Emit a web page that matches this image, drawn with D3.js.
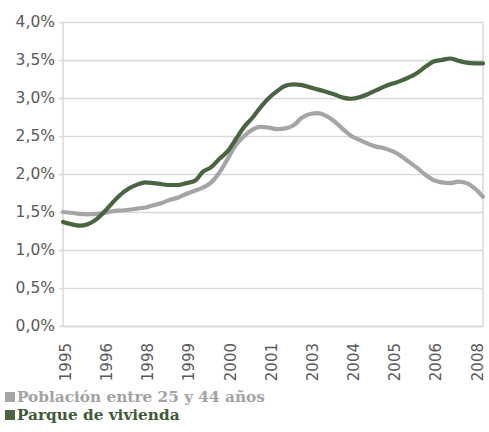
<!DOCTYPE html>
<html>
<head>
<meta charset="utf-8">
<script src="https://cdn.jsdelivr.net/npm/d3@7"></script>
<style>
  html, body { margin: 0; padding: 0; background: #ffffff; }
  svg { display: block; }
</style>
</head>
<body>
<svg id="chart" width="489" height="432"></svg>
<script>
// Quarterly data, 1995 Q3 – 2008 Q2 (52 points), annual growth (%)
const quarters = d3.range(52);
const tickLabels = ["1995", "1996", "1998", "1999", "2000", "2001", "2003", "2004", "2005", "2006", "2008"];
const tickIndexes = [0, 5, 10, 15, 20, 25, 30, 35, 40, 45, 50];
const yTicks = [0, 0.5, 1.0, 1.5, 2.0, 2.5, 3.0, 3.5, 4.0];
const seriesNames = ["Población entre 25 y 44 años", "Parque de vivienda"];

const poblacion = [
  1.50, 1.49, 1.475, 1.47, 1.475, 1.49, 1.51, 1.52, 1.53, 1.545,
  1.56, 1.59, 1.62, 1.66, 1.69, 1.74, 1.78, 1.82, 1.89, 2.02,
  2.20, 2.38, 2.50, 2.585, 2.62, 2.61, 2.59, 2.60, 2.64, 2.74,
  2.79, 2.80, 2.76, 2.69, 2.59, 2.50, 2.45, 2.40, 2.36, 2.34,
  2.30, 2.24, 2.16, 2.08, 1.99, 1.92, 1.89, 1.88, 1.90, 1.88,
  1.81, 1.70
];
const vivienda = [
  1.37, 1.34, 1.32, 1.34, 1.40, 1.50, 1.62, 1.73, 1.81, 1.86,
  1.89, 1.88, 1.865, 1.855, 1.855, 1.88, 1.91, 2.03, 2.09, 2.20,
  2.30, 2.46, 2.62, 2.74, 2.88, 3.00, 3.09, 3.16, 3.18, 3.17,
  3.14, 3.11, 3.08, 3.045, 3.005, 2.99, 3.01, 3.05, 3.10, 3.15,
  3.19, 3.225, 3.27, 3.33, 3.41, 3.48, 3.50, 3.52, 3.49, 3.465,
  3.455, 3.455
];

const colors = ["#a5a5a5", "#4a6340"];
const textColors = ["#a3a3a3", "#3f5a36"];

const svg = d3.select("#chart");
const mLeft = 63, mRight = 483, mTop = 22, mBottom = 326;

const x = d3.scaleLinear().domain([0, quarters.length - 1]).range([mLeft, mRight]);
const y = d3.scaleLinear().domain([0, 4]).range([mBottom, mTop]);

const fmt = v => d3.format(".1f")(v).replace(".", ",") + "%";

// gridlines + y axis
const yAxis = d3.axisLeft(y)
  .tickValues(yTicks)
  .tickSize(-(mRight - mLeft))
  .tickSizeOuter(0)
  .tickPadding(8)
  .tickFormat(fmt);

const gy = svg.append("g").attr("transform", `translate(${mLeft},0)`).call(yAxis);
gy.select(".domain").remove();
gy.selectAll(".tick line")
  .attr("x1", -4)
  .attr("stroke", "#d9d9d9")
  .attr("stroke-width", 1.5);
gy.selectAll(".tick text")
  .attr("fill", "#595959")
  .attr("font-family", "DejaVu Sans, Verdana, sans-serif")
  .attr("font-size", 15.5);

// left axis line, right border
svg.append("line").attr("x1", mLeft).attr("x2", mLeft).attr("y1", mTop).attr("y2", mBottom)
  .attr("stroke", "#d9d9d9").attr("stroke-width", 1.5);
svg.append("line").attr("x1", mRight).attr("x2", mRight).attr("y1", mTop).attr("y2", mBottom)
  .attr("stroke", "#d9d9d9").attr("stroke-width", 1.5);

// x axis labels
const xAxis = d3.axisBottom(x)
  .tickValues(tickIndexes)
  .tickSize(0)
  .tickFormat((d, i) => tickLabels[i]);
const gx = svg.append("g").attr("transform", `translate(0,${mBottom})`).call(xAxis);
gx.select(".domain").attr("stroke", "#d9d9d9").attr("stroke-width", 1.5);
gx.selectAll(".tick text")
  .attr("fill", "#595959")
  .attr("font-family", "DejaVu Sans, Verdana, sans-serif")
  .attr("font-size", 15)
  .attr("text-anchor", "end")
  .attr("transform", "translate(2,17) rotate(-90)")
  .attr("x", 0)
  .attr("y", 0)
  .attr("dy", "0.36em");

// lines
const line = d3.line()
  .x((d, i) => x(quarters[i]))
  .y(d => y(d))
  .curve(d3.curveMonotoneX);

[poblacion, vivienda].forEach((s, k) => {
  svg.append("path")
    .datum(s)
    .attr("d", line)
    .attr("fill", "none")
    .attr("stroke", colors[k])
    .attr("stroke-width", 4.2)
    .attr("stroke-linejoin", "round")
    .attr("stroke-linecap", "round");
});

// legend
const lg = svg.append("g");
seriesNames.forEach((name, k) => {
  const yy = 402 + k * 18;
  lg.append("rect")
    .attr("x", 5).attr("y", yy - 10)
    .attr("width", 10).attr("height", 10)
    .attr("fill", colors[k]);
  lg.append("text")
    .attr("x", 17).attr("y", yy)
    .attr("fill", textColors[k])
    .attr("font-family", "DejaVu Serif, serif")
    .attr("font-weight", "bold")
    .attr("font-size", 15.3)
    .text(name);
});
</script>
</body>
</html>
